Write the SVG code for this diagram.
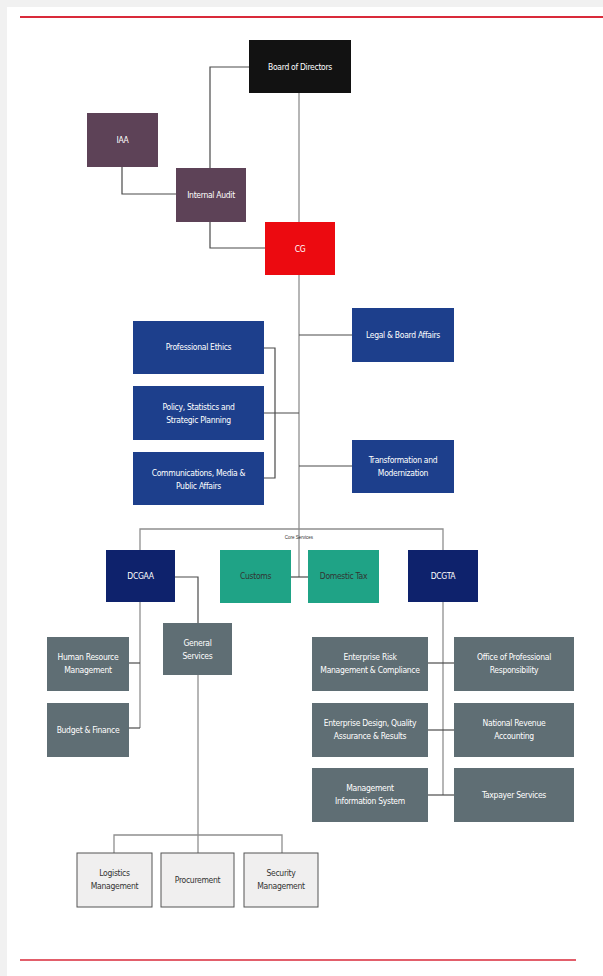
<svg xmlns="http://www.w3.org/2000/svg" width="603" height="976" viewBox="0 0 603 976">
<style>
.t{font-family:"Liberation Sans Narrow","DejaVu Sans Condensed","Liberation Sans",sans-serif;font-size:8.5px;fill:#fff;text-anchor:middle;letter-spacing:-0.3px}
.d{fill:#333}
.c{fill:none;stroke:#8f8f8f;stroke-width:1.3}
.k{fill:none;stroke:#4a4a4a;stroke-width:1.2}
.bod{fill:#121212}
.aud{fill:#5d4257}
.cg{fill:#ec0a10}
.blu{fill:#1d3f8c}
.nav{fill:#0e226c}
.grn{fill:#1fa386}
.gry{fill:#5f6e74}
.lt{fill:#f0efef;stroke:#555;stroke-width:1}
.sh{fill:#3a3a3a;opacity:0.35}
</style>
<rect x="0" y="0" width="603" height="976" fill="#f1f1f1"/>
<rect x="7" y="7" width="596" height="969" fill="#ffffff"/>
<line x1="20" y1="17" x2="603" y2="17" stroke="#d92a3a" stroke-width="2"/>
<line x1="20" y1="960" x2="576" y2="960" stroke="#d92a3a" stroke-width="1.6"/>

<g id="connectors">
  <polyline class="k" points="249,67 210,67 210,248 265,248"/>
  <line class="c" x1="299" y1="93" x2="299" y2="222"/>
  <polyline class="k" points="122,167 122,194 176,194"/>
  <line class="c" x1="299" y1="275" x2="299" y2="577"/>
  <line class="k" x1="299" y1="335" x2="352" y2="335"/>
  <line class="k" x1="299" y1="466" x2="352" y2="466"/>
  <polyline class="k" points="264,348 275,348 275,478 264,478"/>
  <line class="k" x1="264" y1="413" x2="299" y2="413"/>
  <polyline class="c" points="140,550 140,529 443,529 443,550"/>
  <line class="k" x1="291" y1="577" x2="308" y2="577"/>
  <polyline class="c" points="140,602 140,728"/>
  <line class="k" x1="129" y1="663" x2="140" y2="663"/>
  <line class="k" x1="129" y1="728" x2="140" y2="728"/>
  <polyline class="k" points="175,577 198,577 198,623"/>
  <line class="c" x1="198" y1="675" x2="198" y2="853"/>
  <polyline class="c" points="114,853 114,835 282,835 282,853"/>
  <line class="c" x1="443" y1="602" x2="443" y2="795"/>
  <line class="k" x1="428" y1="663" x2="454" y2="663"/>
  <line class="k" x1="428" y1="730" x2="454" y2="730"/>
  <line class="k" x1="428" y1="795" x2="454" y2="795"/>
  <text x="299" y="538.5" style="font-family:'Liberation Sans',sans-serif;font-size:4.5px;fill:#333;text-anchor:middle">Core Services</text>
</g>

<g id="board"><rect class="bod" x="249" y="40" width="102" height="53"/><text class="t" x="300" y="70">Board of Directors</text></g>
<g id="iaa"><rect class="aud" x="87" y="113" width="71" height="54"/><text class="t" x="122.5" y="143">IAA</text></g>
<g id="internal-audit"><rect class="aud" x="176" y="168" width="70" height="54"/><text class="t" x="211" y="198">Internal Audit</text></g>
<g id="cg"><rect class="cg" x="265" y="222" width="70" height="53"/><text class="t" x="300" y="252">CG</text></g>

<g id="prof-ethics"><rect class="blu" x="133" y="321" width="131" height="53"/><text class="t" x="198.5" y="350">Professional Ethics</text></g>
<g id="policy"><rect class="blu" x="133" y="386" width="131" height="54"/><text class="t" x="198.5" y="410">Policy, Statistics and</text><text class="t" x="198.5" y="423">Strategic Planning</text></g>
<g id="comms"><rect class="blu" x="133" y="452" width="131" height="53"/><text class="t" x="198.5" y="476">Communications, Media &amp;</text><text class="t" x="198.5" y="489">Public Affairs</text></g>
<g id="legal"><rect class="blu" x="352" y="308" width="102" height="54"/><text class="t" x="403" y="338">Legal &amp; Board Affairs</text></g>
<g id="transformation"><rect class="blu" x="352" y="440" width="102" height="53"/><text class="t" x="403" y="463">Transformation and</text><text class="t" x="403" y="476">Modernization</text></g>

<g id="dcgaa"><rect class="nav" x="106" y="550" width="69" height="52"/><text class="t" x="140.5" y="579">DCGAA</text></g>
<g id="customs"><rect class="grn" x="220" y="550" width="71" height="53"/><text class="t d" x="255.5" y="579">Customs</text></g>
<g id="domestic-tax"><rect class="grn" x="308" y="550" width="71" height="53"/><text class="t d" x="343.5" y="579">Domestic Tax</text></g>
<g id="dcgta"><rect class="nav" x="408" y="550" width="70" height="52"/><text class="t" x="443" y="579">DCGTA</text></g>

<g id="hr"><rect class="gry" x="47" y="637" width="82" height="54"/><text class="t" x="88" y="660">Human Resource</text><text class="t" x="88" y="673">Management</text></g>
<g id="budget"><rect class="gry" x="47" y="703" width="82" height="54"/><text class="t" x="88" y="733">Budget &amp; Finance</text></g>
<g id="general-services"><rect class="gry" x="163" y="623" width="69" height="52"/><text class="t" x="197.5" y="646">General</text><text class="t" x="197.5" y="659">Services</text></g>

<g id="erm"><rect class="gry" x="312" y="637" width="116" height="54"/><text class="t" x="370" y="660">Enterprise Risk</text><text class="t" x="370" y="673">Management &amp; Compliance</text></g>
<g id="opr"><rect class="gry" x="454" y="637" width="120" height="54"/><text class="t" x="514" y="660">Office of Professional</text><text class="t" x="514" y="673">Responsibility</text></g>
<g id="edq"><rect class="gry" x="312" y="703" width="116" height="54"/><text class="t" x="370" y="726">Enterprise Design, Quality</text><text class="t" x="370" y="739">Assurance &amp; Results</text></g>
<g id="nra"><rect class="gry" x="454" y="703" width="120" height="54"/><text class="t" x="514" y="726">National Revenue</text><text class="t" x="514" y="739">Accounting</text></g>
<g id="mis"><rect class="gry" x="312" y="768" width="116" height="54"/><text class="t" x="370" y="791">Management</text><text class="t" x="370" y="804">Information System</text></g>
<g id="taxpayer"><rect class="gry" x="454" y="768" width="120" height="54"/><text class="t" x="514" y="798">Taxpayer Services</text></g>

<g id="logistics"><rect class="lt" x="77" y="853" width="75" height="54"/><text class="t d" x="114.5" y="876">Logistics</text><text class="t d" x="114.5" y="889">Management</text></g>
<g id="procurement"><rect class="lt" x="161" y="853" width="73" height="54"/><text class="t d" x="197.5" y="883">Procurement</text></g>
<g id="security"><rect class="lt" x="244" y="853" width="74" height="54"/><text class="t d" x="281" y="876">Security</text><text class="t d" x="281" y="889">Management</text></g>
</svg>
